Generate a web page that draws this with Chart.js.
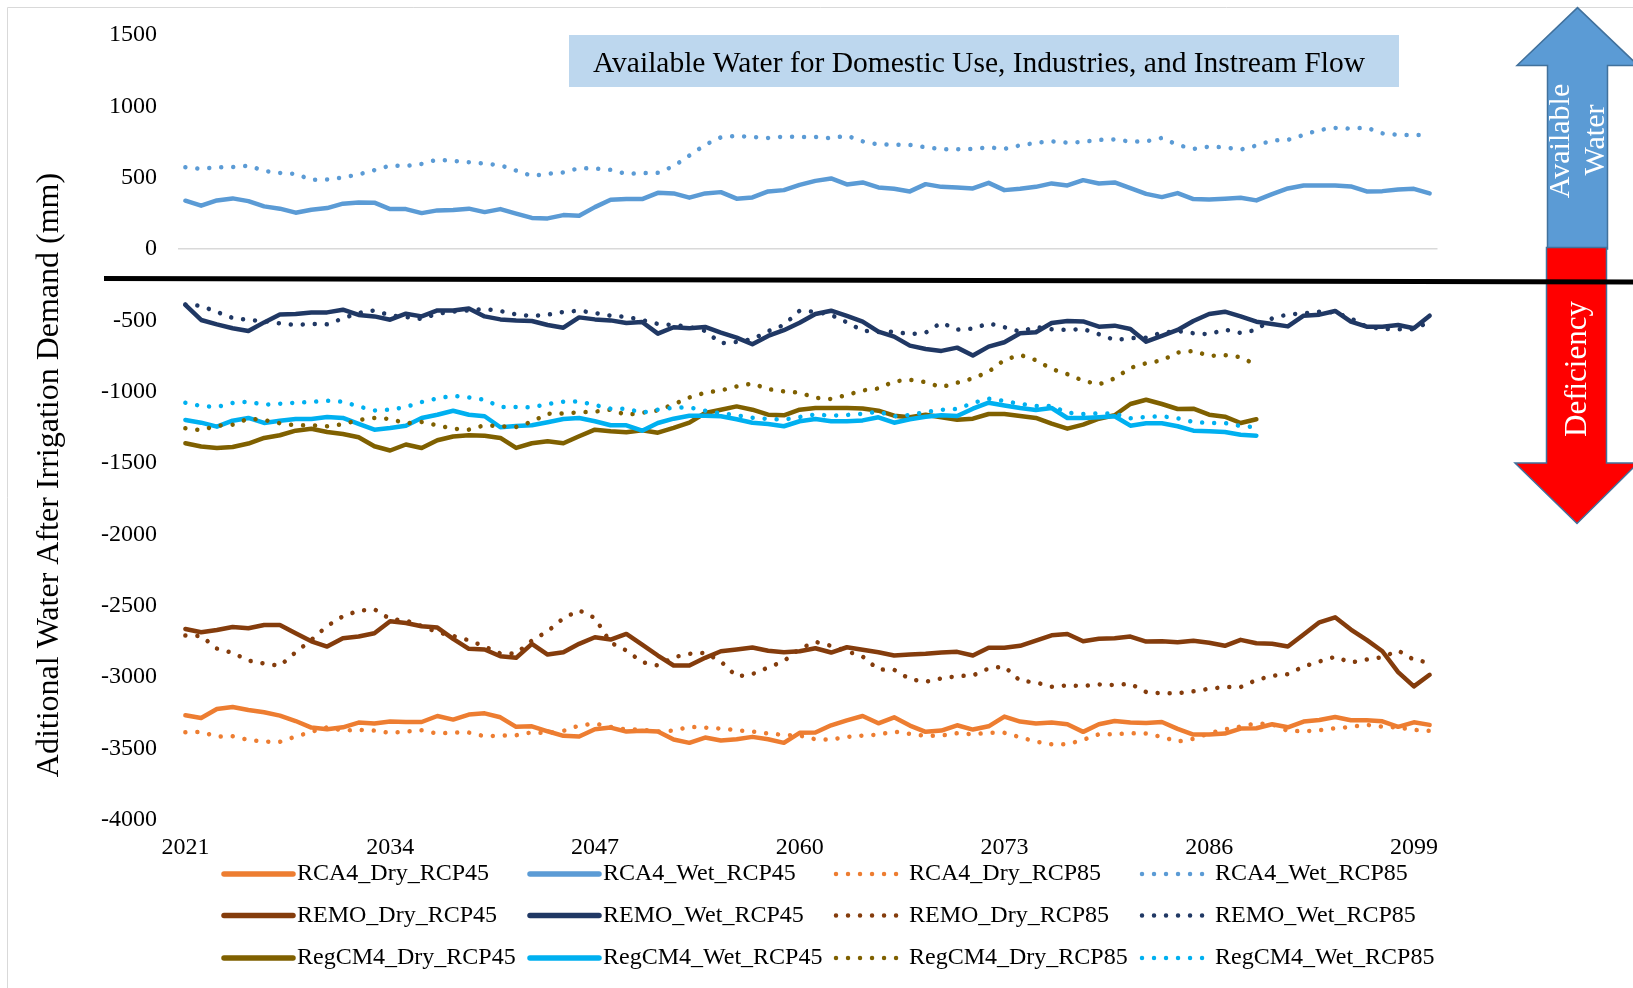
<!DOCTYPE html>
<html>
<head>
<meta charset="utf-8">
<title>Additional Water After Irrigation Demand</title>
<script src="https://cdn.jsdelivr.net/npm/chart.js@4.4.1/dist/chart.umd.min.js"></script>
<style>
  html, body { margin: 0; padding: 0; background: #ffffff; }
  canvas { display: block; }
</style>
</head>
<body>
<canvas id="chart" width="1633" height="988"></canvas>
<script>
// Years on the category axis
const years = [
  2021, 2022, 2023, 2024, 2025, 2026, 2027, 2028, 2029, 2030,
  2031, 2032, 2033, 2034, 2035, 2036, 2037, 2038, 2039, 2040,
  2041, 2042, 2043, 2044, 2045, 2046, 2047, 2048, 2049, 2050,
  2051, 2052, 2053, 2054, 2055, 2056, 2057, 2058, 2059, 2060,
  2061, 2062, 2063, 2064, 2065, 2066, 2067, 2068, 2069, 2070,
  2071, 2072, 2073, 2074, 2075, 2076, 2077, 2078, 2079, 2080,
  2081, 2082, 2083, 2084, 2085, 2086, 2087, 2088, 2089, 2090,
  2091, 2092, 2093, 2094, 2095, 2096, 2097, 2098, 2099, 2100
];

// Y axis tick values (mm)
const yTicks = [1500, 1000, 500, 0, -500, -1000, -1500, -2000, -2500, -3000, -3500, -4000];

// Series names (legend order)
const seriesNames = [
  'RCA4_Dry_RCP45', 'RCA4_Wet_RCP45', 'RCA4_Dry_RCP85', 'RCA4_Wet_RCP85',
  'REMO_Dry_RCP45', 'REMO_Wet_RCP45', 'REMO_Dry_RCP85', 'REMO_Wet_RCP85',
  'RegCM4_Dry_RCP45', 'RegCM4_Wet_RCP45', 'RegCM4_Dry_RCP85', 'RegCM4_Wet_RCP85'
];

// Additional water after irrigation demand (mm), 2021-2100
const rca4DryRcp45 = [
  -3269, -3288, -3225, -3211, -3232, -3248, -3271, -3309, -3355, -3367,
  -3353, -3320, -3327, -3313, -3316, -3316, -3274, -3299, -3264, -3255,
  -3283, -3350, -3346, -3381, -3413, -3418, -3367, -3355, -3383, -3378,
  -3383, -3439, -3462, -3425, -3446, -3437, -3420, -3437, -3462, -3392,
  -3390, -3339, -3304, -3274, -3325, -3283, -3341, -3385, -3376, -3339,
  -3369, -3346, -3278, -3313, -3327, -3320, -3332, -3385, -3332, -3309,
  -3320, -3323, -3316, -3364, -3404, -3404, -3397, -3362, -3360, -3332,
  -3353, -3313, -3302, -3281, -3304, -3304, -3311, -3350, -3318, -3336
];
const rca4WetRcp45 = [
  338, 303, 340, 354, 335, 298, 282, 254, 275, 286,
  317, 326, 324, 279, 279, 251, 270, 272, 282, 258,
  279, 247, 217, 214, 237, 233, 293, 345, 349, 349,
  393, 389, 359, 389, 398, 352, 361, 403, 412, 449,
  477, 494, 452, 466, 431, 421, 403, 454, 435, 431,
  424, 463, 412, 421, 435, 459, 445, 482, 459, 466,
  426, 386, 363, 391, 349, 347, 352, 359, 340, 384,
  424, 445, 445, 445, 438, 403, 405, 417, 421, 389
];
const rca4DryRcp85 = [
  -3388, -3385, -3418, -3416, -3441, -3453, -3455, -3418, -3385, -3353,
  -3376, -3371, -3376, -3392, -3383, -3374, -3397, -3390, -3390, -3416,
  -3411, -3409, -3388, -3395, -3378, -3341, -3327, -3350, -3369, -3369,
  -3383, -3376, -3350, -3355, -3362, -3374, -3383, -3397, -3406, -3411,
  -3437, -3439, -3420, -3411, -3404, -3383, -3399, -3413, -3411, -3395,
  -3402, -3392, -3392, -3423, -3453, -3472, -3472, -3441, -3402, -3402,
  -3395, -3397, -3420, -3453, -3434, -3395, -3367, -3348, -3325, -3332,
  -3378, -3381, -3374, -3360, -3350, -3336, -3348, -3355, -3371, -3378
];
const rca4WetRcp85 = [
  573, 561, 573, 573, 584, 547, 533, 526, 484, 487,
  501, 522, 552, 584, 582, 596, 626, 617, 608, 598,
  587, 549, 512, 526, 536, 566, 563, 554, 526, 531,
  533, 580, 654, 729, 782, 792, 785, 778, 787, 785,
  785, 775, 794, 754, 731, 731, 729, 712, 699, 699,
  701, 712, 701, 726, 743, 754, 745, 750, 764, 768,
  752, 754, 778, 729, 701, 717, 712, 696, 724, 761,
  764, 799, 834, 848, 843, 850, 810, 799, 799, 799
];
const remoDryRcp45 = [
  -2664, -2687, -2671, -2650, -2659, -2636, -2636, -2694, -2750, -2787,
  -2729, -2717, -2694, -2610, -2622, -2645, -2654, -2733, -2803, -2808,
  -2855, -2866, -2768, -2843, -2827, -2768, -2722, -2738, -2699, -2773,
  -2850, -2920, -2920, -2866, -2820, -2808, -2794, -2817, -2827, -2820,
  -2799, -2829, -2792, -2810, -2827, -2850, -2843, -2838, -2829, -2824,
  -2850, -2796, -2796, -2782, -2745, -2708, -2699, -2750, -2733, -2729,
  -2717, -2752, -2750, -2757, -2747, -2761, -2782, -2740, -2764, -2768,
  -2787, -2703, -2617, -2582, -2668, -2740, -2820, -2966, -3066, -2985
];
const remoWetRcp45 = [
  -393, -498, -529, -556, -575, -515, -459, -456, -445, -445,
  -426, -463, -473, -496, -454, -473, -431, -431, -417, -473,
  -494, -501, -505, -533, -552, -480, -494, -501, -519, -512,
  -594, -549, -556, -547, -587, -622, -668, -610, -570, -517,
  -456, -433, -470, -510, -580, -615, -678, -701, -715, -692,
  -747, -685, -654, -591, -584, -519, -505, -508, -545, -538,
  -561, -650, -610, -568, -505, -456, -440, -473, -510, -526,
  -543, -468, -461, -435, -510, -545, -545, -533, -556, -468
];
const remoDryRcp85 = [
  -2710, -2713, -2801, -2831, -2885, -2906, -2922, -2827, -2740, -2643,
  -2575, -2536, -2526, -2594, -2605, -2643, -2687, -2713, -2743, -2787,
  -2836, -2836, -2745, -2680, -2589, -2533, -2587, -2759, -2815, -2896,
  -2920, -2862, -2838, -2831, -2892, -2997, -2980, -2934, -2889, -2803,
  -2754, -2782, -2820, -2857, -2948, -2950, -3015, -3034, -3011, -2994,
  -2990, -2941, -2927, -3027, -3038, -3069, -3059, -3064, -3052, -3057,
  -3048, -3106, -3115, -3115, -3101, -3083, -3071, -3071, -3022, -2992,
  -2980, -2927, -2892, -2859, -2899, -2878, -2862, -2815, -2880, -2900
];
const remoWetRcp85 = [
  -389, -400, -442, -484, -498, -505, -522, -533, -526, -529,
  -487, -449, -431, -466, -477, -491, -454, -440, -431, -421,
  -435, -459, -470, -461, -442, -433, -449, -468, -477, -498,
  -526, -533, -547, -575, -661, -652, -633, -577, -533, -433,
  -440, -463, -515, -573, -582, -580, -598, -587, -517, -566,
  -559, -522, -549, -580, -547, -563, -568, -561, -598, -638,
  -626, -622, -587, -575, -591, -598, -566, -589, -568, -487,
  -459, -452, -440, -445, -487, -545, -561, -563, -563, -510
];
// RegCM4 runs stop in 2089
const regcm4DryRcp45 = [
  -1362, -1385, -1395, -1388, -1364, -1325, -1306, -1274, -1260, -1283,
  -1297, -1320, -1383, -1413, -1371, -1395, -1341, -1315, -1306, -1309,
  -1325, -1395, -1362, -1348, -1362, -1313, -1267, -1278, -1285, -1271,
  -1288, -1255, -1218, -1150, -1127, -1104, -1127, -1162, -1166, -1127,
  -1115, -1115, -1115, -1118, -1134, -1169, -1180, -1162, -1180, -1197,
  -1190, -1157, -1157, -1171, -1185, -1225, -1260, -1232, -1190, -1166,
  -1087, -1057, -1087, -1122, -1120, -1162, -1176, -1220, -1194
];
const regcm4WetRcp45 = [
  -1199, -1218, -1246, -1204, -1185, -1220, -1204, -1192, -1192, -1178,
  -1185, -1227, -1267, -1255, -1239, -1185, -1162, -1134, -1162, -1173,
  -1250, -1241, -1236, -1215, -1192, -1185, -1208, -1236, -1236, -1274,
  -1220, -1190, -1169, -1169, -1173, -1194, -1218, -1227, -1243, -1208,
  -1192, -1208, -1208, -1202, -1180, -1218, -1194, -1176, -1166, -1171,
  -1120, -1078, -1097, -1115, -1129, -1115, -1185, -1185, -1180, -1173,
  -1239, -1222, -1222, -1243, -1274, -1278, -1283, -1302, -1309
];
const regcm4DryRcp85 = [
  -1257, -1271, -1239, -1232, -1190, -1199, -1222, -1236, -1236, -1243,
  -1229, -1199, -1185, -1192, -1222, -1213, -1236, -1260, -1267, -1236,
  -1243, -1248, -1211, -1155, -1153, -1146, -1141, -1127, -1164, -1148,
  -1132, -1090, -1041, -1008, -992, -964, -943, -983, -999, -1008,
  -1043, -1052, -1024, -992, -978, -929, -917, -934, -969, -938,
  -908, -861, -778, -743, -780, -841, -878, -924, -950, -908,
  -834, -801, -782, -726, -715, -750, -745, -759, -813
];
const regcm4WetRcp85 = [
  -1078, -1101, -1108, -1080, -1071, -1092, -1085, -1078, -1073, -1064,
  -1071, -1104, -1132, -1127, -1108, -1073, -1048, -1029, -1041, -1057,
  -1108, -1108, -1111, -1087, -1071, -1069, -1094, -1120, -1120, -1148,
  -1127, -1113, -1111, -1134, -1153, -1166, -1183, -1192, -1197, -1178,
  -1160, -1169, -1164, -1155, -1141, -1173, -1164, -1143, -1127, -1122,
  -1080, -1050, -1066, -1087, -1101, -1101, -1148, -1157, -1153, -1155,
  -1187, -1178, -1173, -1187, -1213, -1220, -1220, -1241, -1250
];

const seriesValues = [
  rca4DryRcp45, rca4WetRcp45, rca4DryRcp85, rca4WetRcp85,
  remoDryRcp45, remoWetRcp45, remoDryRcp85, remoWetRcp85,
  regcm4DryRcp45, regcm4WetRcp45, regcm4DryRcp85, regcm4WetRcp85
];

// One colour per model/scenario pair; RCP85 runs are dotted
const seriesColors = [
  '#ED7D31', '#5B9BD5', '#ED7D31', '#5B9BD5',
  '#843C0C', '#203864', '#843C0C', '#203864',
  '#7F6000', '#00B0F0', '#7F6000', '#00B0F0'
];
const dotted = [false, false, true, true, false, false, true, true, false, false, true, true];

const SERIF = "'Liberation Serif', 'Times New Roman', serif";
const DOT_DASH = [0.01, 12];
const LINE_W = 4.5;

const datasets = seriesNames.map((name, i) => ({
  label: name,
  data: seriesValues[i],
  borderColor: seriesColors[i],
  backgroundColor: seriesColors[i],
  borderWidth: LINE_W,
  borderDash: dotted[i] ? DOT_DASH : [],
  borderCapStyle: 'round',
  borderJoinStyle: 'round',
  pointRadius: 0,
  pointHoverRadius: 0,
  tension: 0,
  fill: false,
  order: seriesNames.length - i
}));

// Decorations: frame, axis title, caption box, arrows, divider and legend
const decorations = {
  id: 'decorations',
  afterDraw(chart) {
    const ctx = chart.ctx;
    const y0 = chart.scales.y.getPixelForValue(0);
    ctx.save();

    // outer frame (left and top edges)
    ctx.strokeStyle = '#D9D9D9';
    ctx.lineWidth = 1;
    ctx.beginPath();
    ctx.moveTo(7.5, 988);
    ctx.lineTo(7.5, 7.5);
    ctx.lineTo(1633, 7.5);
    ctx.stroke();

    // vertical axis title
    ctx.save();
    ctx.translate(50, 475);
    ctx.rotate(-Math.PI / 2);
    ctx.fillStyle = '#000000';
    ctx.font = '32px ' + SERIF;
    ctx.textAlign = 'center';
    ctx.textBaseline = 'middle';
    ctx.fillText('Aditional Water After Irrigation Demand (mm)', 0, 0);
    ctx.restore();

    // caption box
    ctx.fillStyle = '#BDD7EE';
    ctx.fillRect(569, 35, 830, 52);
    ctx.fillStyle = '#000000';
    ctx.font = '29.5px ' + SERIF;
    ctx.textAlign = 'center';
    ctx.textBaseline = 'middle';
    ctx.fillText('Available Water for Domestic Use, Industries, and Instream Flow', 979, 64);

    // up arrow (available water)
    ctx.lineWidth = 1.5;
    ctx.strokeStyle = '#41719C';
    ctx.fillStyle = '#5B9BD5';
    ctx.beginPath();
    ctx.moveTo(1577.5, 7.6);
    ctx.lineTo(1638, 65.4);
    ctx.lineTo(1607.5, 65.4);
    ctx.lineTo(1607.5, y0);
    ctx.lineTo(1547.5, y0);
    ctx.lineTo(1547.5, 65.4);
    ctx.lineTo(1517, 65.4);
    ctx.closePath();
    ctx.fill();
    ctx.stroke();

    // down arrow (deficiency)
    ctx.fillStyle = '#FF0000';
    ctx.beginPath();
    ctx.moveTo(1546.5, y0 - 1.5);
    ctx.lineTo(1606.5, y0 - 1.5);
    ctx.lineTo(1606.5, 463);
    ctx.lineTo(1638, 463);
    ctx.lineTo(1577, 523.5);
    ctx.lineTo(1515, 463);
    ctx.lineTo(1546.5, 463);
    ctx.closePath();
    ctx.fill();
    ctx.stroke();

    // arrow labels
    ctx.fillStyle = '#FFFFFF';
    ctx.font = '30px ' + SERIF;
    ctx.textAlign = 'center';
    ctx.textBaseline = 'middle';
    ctx.save();
    ctx.translate(1561.5, 141);
    ctx.rotate(-Math.PI / 2);
    ctx.fillText('Available', 0, 0);
    ctx.restore();
    ctx.save();
    ctx.translate(1596.5, 140);
    ctx.rotate(-Math.PI / 2);
    ctx.fillText('Water', 0, 0);
    ctx.restore();
    ctx.save();
    ctx.translate(1578, 369);
    ctx.rotate(-Math.PI / 2);
    ctx.font = '31px ' + SERIF;
    ctx.fillText('Deficiency', 0, 0);
    ctx.restore();

    // divider between surplus and deficit
    ctx.strokeStyle = '#000000';
    ctx.lineWidth = 5;
    ctx.lineCap = 'butt';
    ctx.beginPath();
    ctx.moveTo(104, 278.5);
    ctx.lineTo(1633, 282);
    ctx.stroke();

    // legend: 4 columns x 3 rows
    const colX = [221, 527, 833, 1139];
    const rowY = [874, 915.5, 958];
    ctx.font = '24px ' + SERIF;
    ctx.textAlign = 'left';
    ctx.textBaseline = 'middle';
    chart.data.datasets.forEach((ds, i) => {
      const x = colX[i % 4];
      const y = rowY[Math.floor(i / 4)];
      ctx.save();
      ctx.strokeStyle = ds.borderColor;
      ctx.lineWidth = dotted[i] ? LINE_W : 5.5;
      ctx.lineCap = 'round';
      ctx.setLineDash(ds.borderDash);
      ctx.beginPath();
      ctx.moveTo(x + 3, y);
      ctx.lineTo(x + 72, y);
      ctx.stroke();
      ctx.restore();
      ctx.fillStyle = '#000000';
      ctx.fillText(ds.label, x + 76, y);
    });

    ctx.restore();
  }
};

Chart.defaults.font.family = SERIF;
Chart.defaults.color = '#000000';

new Chart(document.getElementById('chart'), {
  type: 'line',
  data: { labels: years, datasets },
  options: {
    responsive: false,
    devicePixelRatio: 1,
    animation: false,
    events: [],
    layout: { padding: { left: 0, top: 32.3, right: 195.5, bottom: 0 } },
    plugins: {
      legend: { display: false },
      tooltip: { enabled: false },
      title: { display: false }
    },
    scales: {
      x: {
        type: 'category',
        offset: true,
        grid: { display: false, drawTicks: false },
        border: { display: false },
        ticks: {
          autoSkip: false,
          maxRotation: 0,
          minRotation: 0,
          padding: 14,
          color: '#000000',
          font: { size: 24, family: SERIF },
          callback: (value, index) => (index % 13 === 0 ? String(years[index]) : null)
        },
        afterFit: (scale) => { scale.height = 168.4; }
      },
      y: {
        type: 'linear',
        min: yTicks[yTicks.length - 1],
        max: yTicks[0],
        afterBuildTicks: (scale) => { scale.ticks = yTicks.map(v => ({ value: v })); },
        grid: {
          drawTicks: false,
          lineWidth: 1.5,
          color: (c) => (c.tick && c.tick.value === 0 ? '#D9D9D9' : 'rgba(0,0,0,0)')
        },
        border: { display: false },
        ticks: {
          padding: 20.5,
          color: '#000000',
          font: { size: 24, family: SERIF },
          callback: (value) => String(value)
        },
        afterFit: (scale) => { scale.width = 177.5; }
      }
    }
  },
  plugins: [decorations]
});
</script>
</body>
</html>
